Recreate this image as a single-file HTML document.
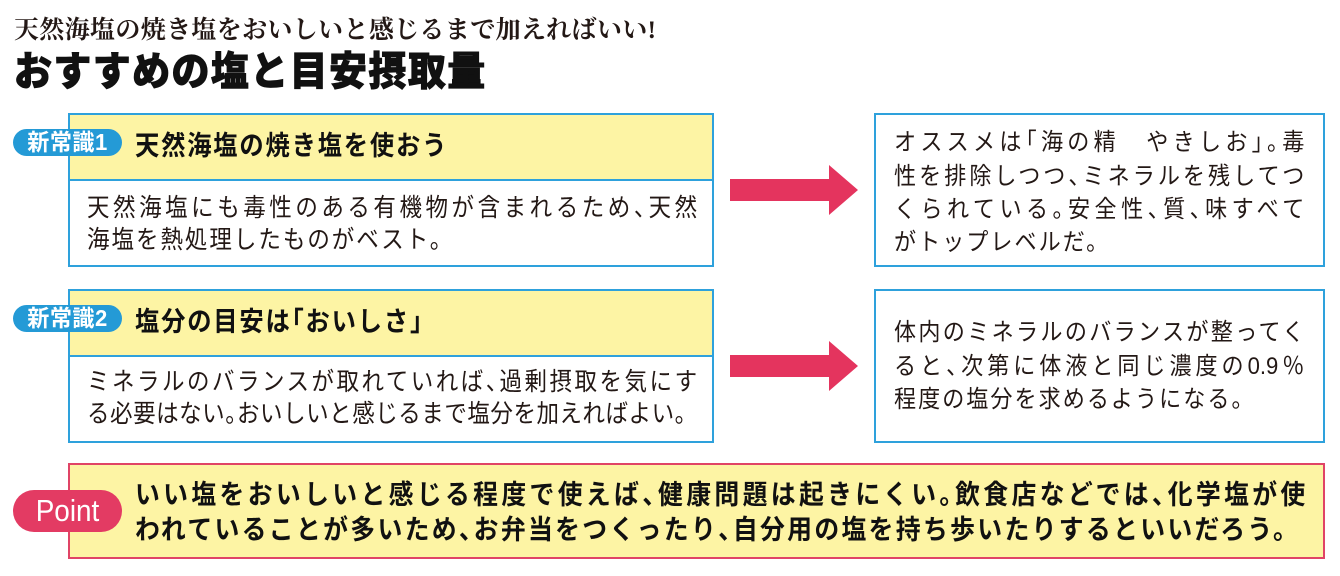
<!DOCTYPE html>
<html lang="ja">
<head>
<meta charset="utf-8">
<style>
  html,body{margin:0;padding:0;background:#fff;}
  body{width:1340px;height:576px;position:relative;overflow:hidden;
       font-family:"Liberation Sans","Noto Sans CJK JP",sans-serif;color:#231815;}
  .abs{position:absolute;}
  .ln{position:absolute;white-space:nowrap;height:30px;line-height:30px;transform-origin:0 50%;}
  .j{text-align:justify;text-align-last:justify;}
  .h{font-feature-settings:"halt";}
  .body{font-size:25px;transform:scaleX(0.9);}
  .rt{font-size:24px;transform:scaleX(0.92);}
  .pt{font-size:27px;font-weight:700;color:#111;transform:scaleX(0.92);}
  .box{position:absolute;box-sizing:border-box;border:2px solid #2ea1dc;background:#fff;}
  .hdr{position:absolute;left:0;top:0;right:0;background:#fdf4a4;border-bottom:2px solid #2ea1dc;box-sizing:border-box;}
  .badge{position:absolute;left:13px;width:109px;height:27px;border-radius:14px;background:#249ad6;z-index:5;}
  .badge span{position:absolute;left:0;top:0;width:109px;text-align:center;color:#fff;font-weight:700;font-size:23px;line-height:27px;letter-spacing:0.5px;transform:scaleX(0.96);transform-origin:50% 50%;white-space:nowrap;}
  .htxt{font-size:27px;font-weight:700;letter-spacing:2px;transform:scaleX(0.9);color:#111;}
</style>
</head>
<body>

<!-- Titles -->
<div class="ln j" style="left:14px;top:16px;width:642px;font-family:'Liberation Serif','Noto Serif CJK SC',serif;font-weight:700;font-size:25px;">天然海塩の焼き塩をおいしいと感じるまで加えればいい!</div>
<div class="ln j" style="left:14px;top:50px;height:44px;line-height:44px;width:496px;transform:scaleX(0.95);font-weight:900;font-size:40px;color:#111;-webkit-text-stroke:0.9px #111;">おすすめの塩と目安摂取量</div>

<!-- Box 1 -->
<div class="box" style="left:68px;top:113px;width:646px;height:154px;">
  <div class="hdr" style="height:66px;"></div>
</div>
<div class="badge" style="top:129px;"><span>新常識1</span></div>
<div class="ln htxt" style="left:135px;top:131px;">天然海塩の焼き塩を使おう</div>
<div class="ln j body" style="left:87px;top:193px;width:678px;">天然海塩にも毒性のある有機物が含まれるため<span class="h">、</span>天然</div>
<div class="ln body" style="left:87px;top:225px;letter-spacing:2.2px;">海塩を熱処理したものがベスト。</div>

<!-- Box 2 -->
<div class="box" style="left:68px;top:289px;width:646px;height:154px;">
  <div class="hdr" style="height:66px;"></div>
</div>
<div class="badge" style="top:305px;"><span>新常識2</span></div>
<div class="ln htxt" style="left:135px;top:307px;">塩分の目安は<span class="h">「</span>おいしさ<span class="h">」</span></div>
<div class="ln j body" style="left:87px;top:367px;width:678px;">ミネラルのバランスが取れていれば<span class="h">、</span>過剰摂取を気にす</div>
<div class="ln j body" style="left:87px;top:399px;width:678px;">る必要はない<span class="h">。</span>おいしいと感じるまで塩分を加えればよい。</div>

<!-- Arrows -->
<svg class="abs" style="left:0;top:0;" width="1340" height="576" viewBox="0 0 1340 576">
  <polygon points="730,179 829,179 829,165 858,190 829,215 829,201 730,201" fill="#e4345e"/>
  <polygon points="730,355 829,355 829,341 858,366 829,391 829,377 730,377" fill="#e4345e"/>
</svg>

<!-- Right box 1 -->
<div class="box" style="left:874px;top:113px;width:451px;height:154px;"></div>
<div class="ln j rt" style="left:894px;top:128px;width:446px;">オススメは<span class="h">「</span>海の精　やきしお<span class="h">」。</span>毒</div>
<div class="ln j rt" style="left:894px;top:162px;width:446px;">性を排除しつつ<span class="h">、</span>ミネラルを残してつ</div>
<div class="ln j rt" style="left:894px;top:195px;width:446px;">くられている<span class="h">。</span>安全性<span class="h">、</span>質<span class="h">、</span>味すべて</div>
<div class="ln rt" style="left:894px;top:228px;letter-spacing:2.2px;">がトップレベルだ。</div>

<!-- Right box 2 -->
<div class="box" style="left:874px;top:289px;width:451px;height:154px;"></div>
<div class="ln j rt" style="left:894px;top:318px;width:446px;">体内のミネラルのバランスが整ってく</div>
<div class="ln j rt" style="left:894px;top:352px;width:446px;">ると<span class="h">、</span>次第に体液と同じ濃度の0.9％</div>
<div class="ln rt" style="left:894px;top:385px;letter-spacing:2.2px;">程度の塩分を求めるようになる。</div>

<!-- Point box -->
<div class="abs" style="left:68px;top:463px;width:1257px;height:96px;box-sizing:border-box;border:2px solid #e04466;background:#fdf4a4;"></div>
<div class="abs" style="left:13px;top:490px;width:109px;height:42px;border-radius:21px;background:#e33b63;z-index:5;">
  <div style="position:absolute;left:0;top:0;width:109px;text-align:center;color:#fff;font-family:'Liberation Sans',sans-serif;font-size:31px;line-height:42px;transform:scaleX(0.9);transform-origin:50% 50%;">Point</div>
</div>
<div class="ln j pt" style="left:135px;top:480px;width:1272px;">いい塩をおいしいと感じる程度で使えば<span class="h">、</span>健康問題は起きにくい<span class="h">。</span>飲食店などでは<span class="h">、</span>化学塩が使</div>
<div class="ln j pt" style="left:135px;top:515px;width:1264px;">われていることが多いため<span class="h">、</span>お弁当をつくったり<span class="h">、</span>自分用の塩を持ち歩いたりするといいだろう。</div>

</body>
</html>
